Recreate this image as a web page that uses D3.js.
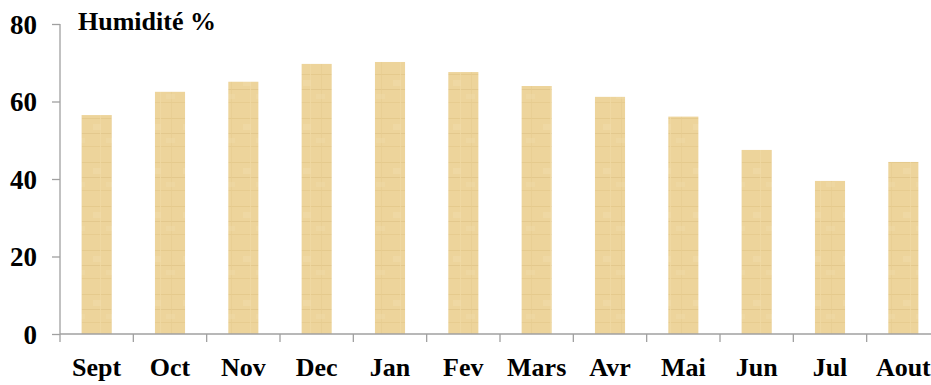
<!DOCTYPE html>
<html>
<head>
<meta charset="utf-8">
<script src="https://cdn.jsdelivr.net/npm/d3@7"></script>
<style>
  body { margin: 0; background: #fff; }
  svg { display: block; }
</style>
</head>
<body>
<div id="chart"></div>
<script>
// monthly humidity (%)
const months = ["Sept","Oct","Nov","Dec","Jan","Fev","Mars","Avr","Mai","Jun","Jul","Aout"];
const humidity = [56.5, 62.5, 65.1, 69.7, 70.2, 67.6, 64.0, 61.2, 56.1, 47.5, 39.5, 44.4];
const yTicks = [0, 20, 40, 60, 80];
const title = "Humidité %";

const FONT = "'Liberation Serif', 'Times New Roman', Tinos, serif";

const W = 931, H = 385;
const margin = { left: 60, top: 24, bottom: 51 };
const plotW = 880; // axis runs past the right edge, like the original
const plotH = H - margin.top - margin.bottom;

const svg = d3.select("#chart").append("svg")
  .attr("width", W).attr("height", H);

// papyrus-like fill for the bars
const defs = svg.append("defs");
const pat = defs.append("pattern")
  .attr("id", "papyrus")
  .attr("patternUnits", "userSpaceOnUse")
  .attr("width", 30).attr("height", 44);
pat.append("rect").attr("width", 30).attr("height", 44).attr("fill", "#edd49b");
pat.append("rect").attr("x", 0).attr("y", 6).attr("width", 30).attr("height", 1).attr("fill", "#e2c688").attr("opacity", 0.7);
pat.append("rect").attr("x", 0).attr("y", 21).attr("width", 30).attr("height", 1).attr("fill", "#dcc083").attr("opacity", 0.6);
pat.append("rect").attr("x", 0).attr("y", 34).attr("width", 30).attr("height", 1).attr("fill", "#e2c688").attr("opacity", 0.6);
pat.append("rect").attr("x", 10).attr("y", 0).attr("width", 1).attr("height", 44).attr("fill", "#f0d9a4").attr("opacity", 0.8);
pat.append("rect").attr("x", 21).attr("y", 0).attr("width", 1).attr("height", 44).attr("fill", "#e6cc90").attr("opacity", 0.6);
pat.append("rect").attr("x", 3).attr("y", 12).attr("width", 8).attr("height", 6).attr("fill", "#f1dcab").attr("opacity", 0.5);
pat.append("rect").attr("x", 16).attr("y", 26).attr("width", 9).attr("height", 5).attr("fill", "#f1dcab").attr("opacity", 0.4);

const g = svg.append("g").attr("transform", `translate(${margin.left},${margin.top})`);

const x = d3.scaleBand().domain(months).range([0, plotW]).paddingInner(0.59).paddingOuter(0.295);
const xTick = d3.scaleBand().domain(months).range([0, plotW]);
const y = d3.scaleLinear().domain([0, 80]).range([plotH, 0]);

g.selectAll(".bar")
  .data(months)
  .enter().append("rect")
  .attr("x", d => x(d))
  .attr("y", (d, i) => y(humidity[i]))
  .attr("width", x.bandwidth())
  .attr("height", (d, i) => plotH - y(humidity[i]))
  .attr("fill", "url(#papyrus)");

// y axis
const yAxis = g.append("g")
  .call(d3.axisLeft(y).tickValues(yTicks).tickSize(8).tickPadding(15));
yAxis.attr("font-family", null).attr("font-size", null);
yAxis.select(".domain").attr("stroke", "#a0a0a0").attr("stroke-width", 1.3).attr("d", `M-0,0V${plotH}`);
yAxis.selectAll(".tick line").attr("stroke", "#a0a0a0").attr("stroke-width", 1.3);
yAxis.selectAll(".tick text")
  .style("font-family", FONT).style("font-weight", "bold").style("font-size", "27px")
  .attr("fill", "#000").attr("dy", "0.34em");

// x axis, ticks on category boundaries
const xAxis = g.append("g").attr("transform", `translate(0,${plotH})`);
xAxis.append("line").attr("x1", 0).attr("x2", plotW).attr("stroke", "#a0a0a0").attr("stroke-width", 1.3);
xAxis.selectAll(".xt")
  .data(months)
  .enter().append("line")
  .attr("x1", d => xTick(d)).attr("x2", d => xTick(d))
  .attr("y1", 0).attr("y2", 8)
  .attr("stroke", "#a0a0a0").attr("stroke-width", 1.3);
xAxis.selectAll(".xl")
  .data(months)
  .enter().append("text")
  .attr("x", d => xTick(d) + xTick.bandwidth() / 2)
  .attr("y", 42)
  .attr("text-anchor", "middle")
  .style("font-family", FONT).style("font-weight", "bold").style("font-size", "26px")
  .text(d => d);

svg.append("text")
  .attr("x", 78).attr("y", 30)
  .style("font-family", FONT).style("font-weight", "bold").style("font-size", "26px")
  .text(title);
</script>
</body>
</html>
